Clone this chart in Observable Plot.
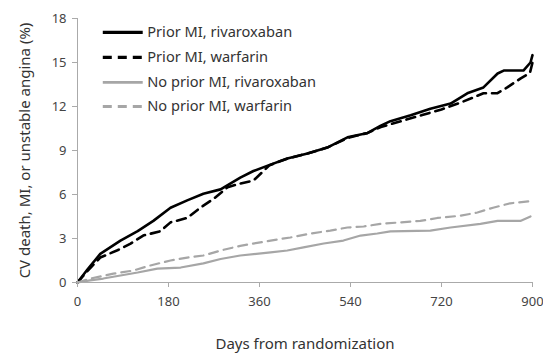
<!DOCTYPE html>
<html><head><meta charset="utf-8">
<script src="https://cdn.jsdelivr.net/npm/d3@7"></script>
<script src="https://cdn.jsdelivr.net/npm/@observablehq/plot@0.6"></script>
<style>body{margin:0;background:#fff;} svg{display:block;}</style>
</head><body><div id="chart"></div>
<script>
const seriesNames = ["Prior MI, rivaroxaban","Prior MI, warfarin","No prior MI, rivaroxaban","No prior MI, warfarin"];
const xTicks = [0,180,360,540,720,900];
const yTicks = [0,3,6,9,12,15,18];
// [day, %]
const priorRiva = [[0,0],[20,0.9],[45,1.95],[85,2.85],[119,3.5],[150,4.2],[184,5.1],[217,5.6],[249,6.05],[283,6.35],[322,7.15],[348,7.6],[375,7.95],[415,8.45],[455,8.8],[494,9.2],[534,9.9],[574,10.2],[600,10.7],[619,11.0],[659,11.4],[698,11.85],[738,12.2],[771,12.9],[803,13.3],[831,14.25],[843,14.45],[882,14.45],[896,15.0],[900,15.5]];
const priorWarf = [[0,0],[20,0.8],[45,1.7],[79,2.2],[105,2.65],[130,3.2],[164,3.5],[184,4.1],[217,4.4],[243,5.1],[269,5.7],[297,6.5],[322,6.75],[348,6.95],[380,8.0],[415,8.45],[455,8.8],[494,9.2],[534,9.85],[574,10.2],[600,10.6],[640,11.0],[680,11.4],[720,11.8],[760,12.3],[803,12.9],[830,12.9],[850,13.3],[876,13.9],[895,14.3],[900,15.0]];
const noRiva = [[0,0],[25,0.15],[51,0.27],[85,0.48],[119,0.68],[158,0.95],[204,1.02],[249,1.3],[283,1.6],[322,1.84],[382,2.05],[415,2.18],[447,2.4],[487,2.66],[526,2.86],[560,3.2],[593,3.34],[619,3.48],[698,3.54],[738,3.75],[797,4.0],[831,4.2],[876,4.2],[896,4.5]];
const noWarf = [[0,0],[26,0.27],[71,0.6],[111,0.82],[144,1.16],[184,1.5],[217,1.7],[249,1.84],[283,2.18],[322,2.5],[382,2.86],[421,3.07],[461,3.34],[500,3.54],[534,3.75],[566,3.82],[600,4.0],[639,4.1],[678,4.2],[712,4.4],[757,4.55],[791,4.77],[822,5.1],[856,5.4],[896,5.55]];

const allSeries = [priorRiva, priorWarf, noRiva, noWarf];
const styles = [
  {stroke:"#000", strokeWidth:2.6, dash:null},
  {stroke:"#000", strokeWidth:2.6, dash:"9,6"},
  {stroke:"#a6a6a6", strokeWidth:2.2, dash:null},
  {stroke:"#a6a6a6", strokeWidth:2.2, dash:"9,6"}
];
const rows = allSeries.map((s,i)=>s.map(([x,y])=>({x,y,series:seriesNames[i]})));

// legend layout (data coordinates)
const legX1 = 51, legX2 = 130, legTextX = 138;
const legY = [17.05, 15.35, 13.65, 12.0];
const legend = seriesNames.map((n,i)=>({name:n, y:legY[i], i}));

const font = "'Noto Sans', 'Open Sans', sans-serif";
const marks = [];
rows.forEach((r,i)=>{
  const s = styles[i];
  marks.push(Plot.line(r,{x:"x",y:"y",stroke:s.stroke,strokeWidth:s.strokeWidth,strokeDasharray:s.dash||undefined,curve:"linear"}));
});
legend.forEach(d=>{
  const s = styles[d.i];
  marks.push(Plot.ruleY([d],{y:"y",x1:()=>legX1,x2:()=>legX2,stroke:s.stroke,strokeWidth:s.strokeWidth+0.6,strokeDasharray:s.dash||undefined}));
});
marks.push(Plot.text(legend,{x:()=>legTextX,y:"y",text:"name",textAnchor:"start",fontSize:14.6,fill:"#333"}));
marks.push(Plot.ruleX([0],{stroke:"#aaa"}));
marks.push(Plot.ruleY([0],{stroke:"#aaa"}));
marks.push(Plot.axisY({ticks:yTicks,tickSize:5,tickPadding:6,fontSize:13,color:"#444",stroke:"#aaa",label:"CV death, MI, or unstable angina (%)",labelAnchor:"center",labelArrow:"none",labelOffset:58}));
marks.push(Plot.axisX({ticks:xTicks,tickSize:5,tickPadding:9,fontSize:13,color:"#444",stroke:"#aaa",label:"Days from randomization",labelAnchor:"center",labelArrow:"none",labelOffset:66}));

const chart = Plot.plot({
  width:543, height:353,
  marginLeft:77, marginRight:11, marginTop:18, marginBottom:71,
  style:{fontFamily:font, background:"#fff", color:"#333"},
  x:{domain:[0,900]},
  y:{domain:[0,18]},
  marks
});
chart.querySelectorAll("[aria-label='y-axis label'] text, [aria-label='x-axis label'] text").forEach(t=>{t.setAttribute("font-size","15"); t.setAttribute("fill","#333");});
document.getElementById("chart").appendChild(chart);
</script></body></html>
